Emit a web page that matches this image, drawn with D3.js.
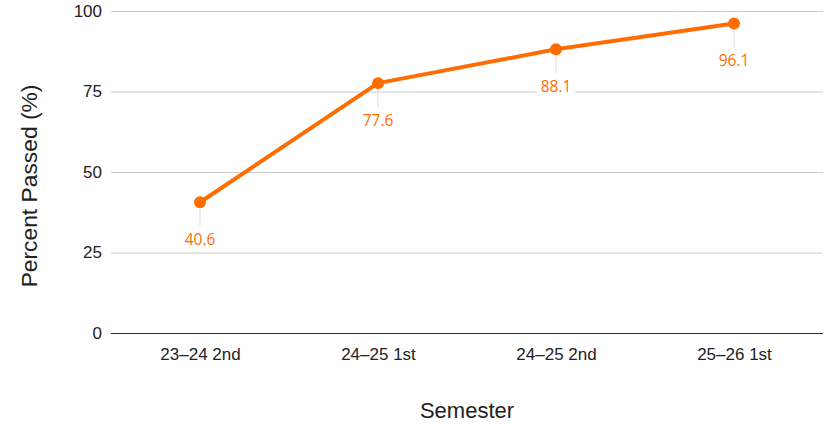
<!DOCTYPE html>
<html>
<head>
<meta charset="utf-8">
<script src="https://cdn.jsdelivr.net/npm/d3@7"></script>
<style>
  body { margin: 0; background: #fff; }
  svg { display: block; }
</style>
</head>
<body>
<svg id="chart" width="825" height="424"></svg>
<script>
// chart data
const semesters = ['23–24 2nd', '24–25 1st', '24–25 2nd', '25–26 1st'];
const percentPassed = [40.6, 77.6, 88.1, 96.1];
const yTicks = [0, 25, 50, 75, 100];

const ORANGE = '#ff6d01';
const FONT = 'Liberation Sans, Arial, sans-serif';
const svg = d3.select('#chart');
const margin = { left: 111, right: 2, top: 11, bottom: 91 };
const width = 825, height = 424;

const xScale = d3.scalePoint().domain(semesters)
  .range([margin.left, width - margin.right]).padding(0.5);
const yScale = d3.scaleLinear().domain([0, 100])
  .range([height - margin.bottom, margin.top]);

// gridlines + y labels
const yAxis = d3.axisLeft(yScale).tickValues(yTicks)
  .tickSize(-(width - margin.left - margin.right)).tickPadding(9);
const yG = svg.append('g').attr('transform', 'translate(' + margin.left + ',0)').call(yAxis);
yG.select('.domain').remove();
yG.selectAll('.tick line').attr('stroke', (d) => d === 0 ? '#333' : '#ccc')
  .attr('stroke-width', (d) => d === 0 ? 1.2 : 1);
yG.selectAll('.tick text').attr('font-family', FONT)
  .attr('font-size', 17).attr('fill', '#222');

// x labels
const xAxis = d3.axisBottom(xScale).tickSize(0).tickPadding(15);
const xG = svg.append('g').attr('transform', 'translate(0,' + (height - margin.bottom) + ')').call(xAxis);
xG.select('.domain').remove();
xG.selectAll('.tick text').attr('font-family', FONT)
  .attr('font-size', 17).attr('fill', '#222');

// axis titles
svg.append('text').attr('x', 467).attr('y', 418)
  .attr('text-anchor', 'middle').attr('font-family', FONT)
  .attr('font-size', 22).attr('fill', '#222').text('Semester');
svg.append('text').attr('transform', 'translate(37,186) rotate(-90)')
  .attr('text-anchor', 'middle').attr('font-family', FONT)
  .attr('font-size', 22.8).attr('fill', '#222').text('Percent Passed (%)');

const pts = semesters.map((s, i) => ({ s: s, v: percentPassed[i] }));

// leader lines
svg.selectAll('.leader').data(pts).enter().append('line')
  .attr('x1', (d) => xScale(d.s)).attr('x2', (d) => xScale(d.s))
  .attr('y1', (d) => yScale(d.v)).attr('y2', (d) => yScale(d.v) + 24)
  .attr('stroke', '#ddd').attr('stroke-width', 1);

// labels with white knockout
const lab = svg.selectAll('.lab').data(pts).enter().append('g')
  .attr('transform', (d) => 'translate(' + xScale(d.s) + ',' + (yScale(d.v) + 37) + ')');
lab.append('rect').attr('x', -19).attr('y', -9).attr('width', 38).attr('height', 18).attr('fill', '#fff');
lab.append('text').attr('text-anchor', 'middle').attr('dy', '0.35em')
  .attr('font-family', 'Open Sans, Noto Sans, sans-serif').attr('font-size', 15.5)
  .attr('fill', ORANGE).text((d) => d.v.toFixed(1));

// line
const line = d3.line().x((d) => xScale(d.s)).y((d) => yScale(d.v));
svg.append('path').datum(pts).attr('d', line).attr('fill', 'none')
  .attr('stroke', ORANGE).attr('stroke-width', 4).attr('stroke-linejoin', 'round');

svg.selectAll('.pt').data(pts).enter().append('circle')
  .attr('cx', (d) => xScale(d.s)).attr('cy', (d) => yScale(d.v)).attr('r', 6).attr('fill', ORANGE);
</script>
</body>
</html>
